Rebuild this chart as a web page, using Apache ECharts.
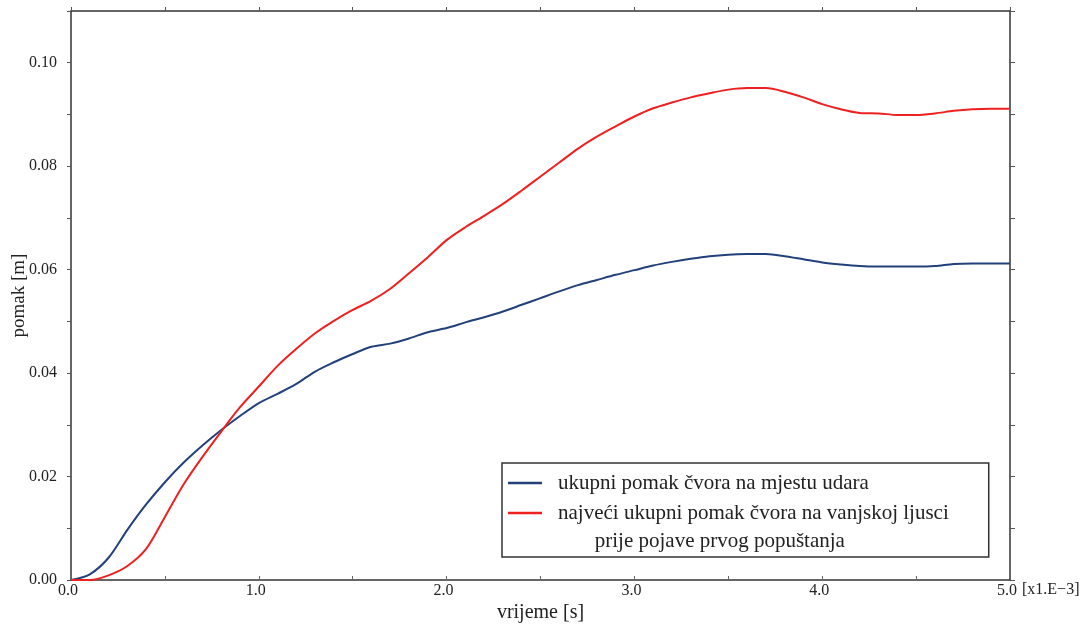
<!DOCTYPE html>
<html>
<head>
<meta charset="utf-8">
<script src="https://cdn.jsdelivr.net/npm/echarts@6/dist/echarts.min.js"></script>
<style>
html,body{margin:0;padding:0;background:#fff;}
#chart{width:1086px;height:628px;}
</style>
</head>
<body>
<div id="chart"></div>
<script>
// time [x1.E-3 s]
var time = [0.0,0.1,0.2,0.3,0.4,0.5,0.6,0.7,0.8,0.9,1.0,1.1,1.2,1.3,1.4,1.5,1.6,1.7,1.8,1.9,2.0,2.1,2.2,2.3,2.4,2.5,2.6,2.7,2.8,2.9,3.0,3.1,3.2,3.3,3.4,3.5,3.6,3.7,3.8,3.9,4.0,4.1,4.2,4.3,4.4,4.5,4.6,4.7,4.8,4.9,5.0];
// ukupni pomak čvora na mjestu udara [m]
var udarValues = [0,0.0011,0.0043,0.0097,0.0146,0.0189,0.0227,0.0260,0.0290,0.0317,0.0342,0.0360,0.0379,0.0403,0.0421,0.0437,0.0451,0.0457,0.0467,0.0479,0.0487,0.0498,0.0508,0.0519,0.0532,0.0545,0.0558,0.0570,0.0580,0.0590,0.0599,0.0608,0.0615,0.0621,0.0626,0.0629,0.0630,0.0630,0.0626,0.0620,0.0614,0.0610,0.0607,0.0606,0.0606,0.0606,0.0607,0.0611,0.0612,0.0612,0.0612];
// najveći ukupni pomak čvora na vanjskoj ljusci [m]
var ljuskaValues = [0,0.0000,0.0009,0.0027,0.0060,0.0122,0.0185,0.0238,0.0287,0.0334,0.0374,0.0414,0.0447,0.0477,0.0501,0.0522,0.0540,0.0563,0.0593,0.0624,0.0657,0.0682,0.0704,0.0727,0.0753,0.0780,0.0807,0.0834,0.0857,0.0877,0.0896,0.0912,0.0923,0.0933,0.0941,0.0948,0.0951,0.0951,0.0944,0.0933,0.0920,0.0910,0.0903,0.0902,0.0899,0.0899,0.0902,0.0907,0.0910,0.0911,0.0911];
var seriesNames = ['ukupni pomak čvora na mjestu udara', 'najveći ukupni pomak čvora na vanjskoj ljusci'];
var legendSecondLine = 'prije pojave prvog popuštanja';
var xAxisName = 'vrijeme [s]';
var yAxisName = 'pomak [m]';
var xUnitNote = '[x1.E\u22123]';

function pairs(xs, ys){ return xs.map(function(x,i){ return [x, ys[i]]; }); }

var FONT = "'Liberation Serif','Times New Roman',serif";
var AXC = '#333';
var chart = echarts.init(document.getElementById('chart'));
chart.setOption({
  animation:false,
  backgroundColor:'#fff',
  grid:{left:71, right:76, top:11, bottom:48, containLabel:false, outerBoundsMode:'none'},
  xAxis:[{
    type:'value', min:0, max:5, interval:0.5, position:'bottom',
    name:xAxisName, nameLocation:'middle', nameGap:23, nameMoveOverlap:false,
    nameTextStyle:{fontFamily:FONT, fontSize:20, color:'#222'},
    axisLine:{show:true, onZero:false, lineStyle:{color:AXC, width:1.5}},
    axisTick:{show:true, inside:true, length:4, lineStyle:{color:'#666', width:1}},
    axisLabel:{fontFamily:FONT, fontSize:16, color:'#222', margin:3, padding:[0,6,0,0],
      formatter:function(v){ return Math.abs(v-Math.round(v))<1e-6 ? v.toFixed(1) : ''; }},
    splitLine:{show:false}
  },{
    type:'value', min:0, max:5, interval:0.5, position:'top',
    axisLine:{show:true, onZero:false, lineStyle:{color:AXC, width:1.5}},
    axisTick:{show:true, inside:false, length:4, lineStyle:{color:'#555', width:1}},
    axisLabel:{show:false}, splitLine:{show:false}
  }],
  yAxis:[{
    type:'value', min:0, max:0.11, interval:0.01, position:'left',
    name:yAxisName, nameLocation:'middle', nameGap:42, nameRotate:90, nameMoveOverlap:false,
    nameTextStyle:{fontFamily:FONT, fontSize:19, color:'#222'},
    axisLine:{show:true, onZero:false, lineStyle:{color:AXC, width:1.5}},
    axisTick:{show:true, inside:false, length:4, lineStyle:{color:'#555', width:1}},
    axisLabel:{fontFamily:FONT, fontSize:16, color:'#222', margin:14,
      formatter:function(v){ var k=Math.round(v*100); return (k%2===0 && k<=10) ? v.toFixed(2) : ''; }},
    splitLine:{show:false}
  },{
    type:'value', min:0, max:0.11, interval:0.01, position:'right',
    axisLine:{show:true, onZero:false, lineStyle:{color:AXC, width:1.5}},
    axisTick:{show:true, inside:false, length:5, lineStyle:{color:'#555', width:1}},
    axisLabel:{show:false}, splitLine:{show:false}
  }],
  legend:{
    left:502, top:463, orient:'vertical',
    icon:'rect', itemWidth:34, itemHeight:2.5, itemGap:-26,
    padding:[6, 40, 2, 6],
    backgroundColor:'#fff', borderColor:'#333', borderWidth:1.5, borderRadius:0,
    textStyle:{fontFamily:FONT, fontSize:21, color:'#222', lineHeight:28, padding:[0,0,0,11]},
    data:[seriesNames[0], seriesNames[1]],
    formatter:function(name){
      if(name===seriesNames[1]) return '\u00a0\n' + name + '\n\u00a0\u00a0\u00a0\u00a0\u00a0\u00a0\u00a0' + legendSecondLine;
      return name;
    }
  },
  graphic:[{
    type:'text', left:1022, top:582,
    style:{text:xUnitNote, font:'16px ' + FONT, fill:'#222'}
  }],
  series:[{
    name:seriesNames[0], type:'line', data:pairs(time, udarValues),
    showSymbol:false, smooth:0.3, lineStyle:{color:'#22407a', width:2}, itemStyle:{color:'#22407a'}
  },{
    name:seriesNames[1], type:'line', data:pairs(time, ljuskaValues),
    showSymbol:false, smooth:0.3, lineStyle:{color:'#ee2020', width:2}, itemStyle:{color:'#ee2020'}
  }]
});
</script>
</body>
</html>
